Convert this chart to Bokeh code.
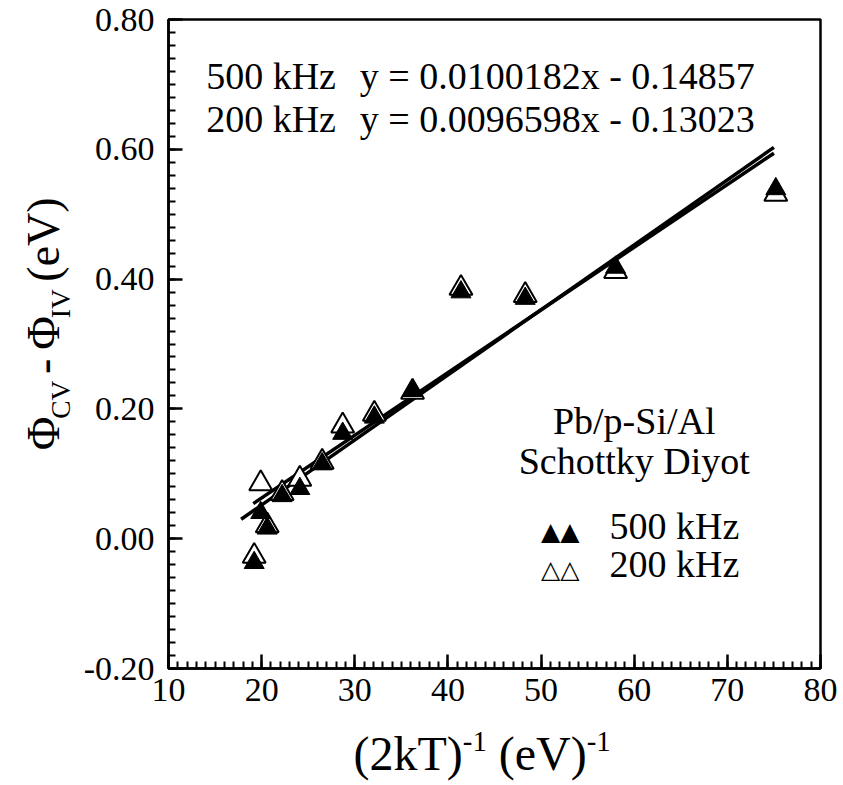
import math
from bokeh.plotting import figure
from bokeh.layouts import row, column
from bokeh.models import Range1d, FixedTicker, PrintfTickFormatter, Label
from bokeh.embed import file_html
from bokeh.resources import INLINE

# ---------------- data ----------------
x_500 = [19.2, 19.9, 20.6, 22.2, 24.1, 26.5, 28.7, 32.1, 36.2, 41.4, 48.3, 58.0, 75.2]
y_500 = [-0.037, 0.040, 0.016, 0.066, 0.077, 0.115, 0.162, 0.187, 0.228, 0.380, 0.370, 0.418, 0.539]

x_200 = [19.2, 19.9, 20.6, 22.2, 24.1, 26.5, 28.7, 32.1, 36.2, 41.4, 48.3, 58.0, 75.2]
y_200 = [-0.027, 0.085, 0.020, 0.070, 0.092, 0.118, 0.174, 0.192, 0.226, 0.386, 0.375, 0.412, 0.531]

fit500_x = [17.8, 75.0]
fit500_y = [0.030, 0.603]
fit200_x = [19.1, 75.0]
fit200_y = [0.054, 0.594]

x_ticks = [10, 20, 30, 40, 50, 60, 70, 80]
y_ticks = [-0.2, 0.0, 0.2, 0.4, 0.6, 0.8]

eq500 = "y = 0.0100182x - 0.14857"
eq200 = "y = 0.0096598x - 0.13023"

# ---------------- layout (page pixels) ----------------
PW, PH = 843, 785
YL_W = 80          # width of the strip holding the y title
XL_H = 65          # height of the strip holding the x title
FL, FR, FT, FB = 162, 820, 19, 668   # frame edges on the page
SERIF = "Liberation Serif"
K_BASE = 0.38      # empirical baseline correction (fraction of font size)

MW, MH = PW - YL_W, PH - XL_H

p = figure(width=MW, height=MH, output_backend="svg", toolbar_location=None,
           x_range=Range1d(10, 80), y_range=Range1d(-0.2, 0.8),
           min_border_left=FL - YL_W, min_border_right=PW - FR,
           min_border_top=FT, min_border_bottom=MH - FB)
p.background_fill_color = "white"
p.border_fill_color = "white"
p.grid.visible = False
p.outline_line_color = "black"
p.outline_line_width = 2.5


def dx(px):
    return 10 + (px - FL) * 70.0 / (FR - FL)


def dy(py):
    return 0.8 - (py - FT) * 1.0 / (FB - FT)


minor_x = list(range(10, 81))
minor_y = [round(-0.2 + 0.02 * i, 2) for i in range(51)]
p.xaxis.ticker = FixedTicker(ticks=x_ticks, minor_ticks=minor_x)
p.yaxis.ticker = FixedTicker(ticks=y_ticks, minor_ticks=minor_y)
p.xaxis.formatter = PrintfTickFormatter(format="%d")
p.yaxis.formatter = PrintfTickFormatter(format="%.2f")

for ax in (p.xaxis, p.yaxis):
    ax.axis_line_width = 2.5
    ax.axis_line_color = "black"
    ax.major_tick_in = 14
    ax.major_tick_out = 0
    ax.minor_tick_in = 7
    ax.minor_tick_out = 0
    ax.major_tick_line_width = 2.5
    ax.minor_tick_line_width = 2
    ax.major_tick_line_color = "black"
    ax.minor_tick_line_color = "black"
    ax.major_label_text_font = SERIF
    ax.major_label_text_font_size = "34px"
    ax.major_label_text_color = "black"
    ax.axis_label = None
p.xaxis.major_label_standoff = 10
p.yaxis.major_label_standoff = 14

# ---------------- fits and points ----------------
p.line(fit500_x, fit500_y, line_color="black", line_width=3.5)
p.line(fit200_x, fit200_y, line_color="black", line_width=3.5)
p.scatter(x_200, y_200, marker="triangle", size=23, fill_color="white",
          line_color="black", line_width=2)
p.scatter(x_500, y_500, marker="triangle", size=20, fill_color="black",
          line_color="black", line_width=1)


# ---------------- strips for the axis titles ----------------
def strip(w, h, x0, y0):
    f = figure(width=w, height=h, output_backend="svg", toolbar_location=None,
               x_range=Range1d(x0, x0 + w), y_range=Range1d(y0 + h, y0),
               x_axis_type=None, y_axis_type=None, min_border=0)
    f.outline_line_color = None
    f.grid.visible = False
    f.background_fill_color = "white"
    f.border_fill_color = "white"
    return f


yfig = strip(YL_W, MH, 0, 0)
xfig = strip(PW, XL_H, 0, MH)

ident = (lambda v: v, lambda v: v)
MAPS = {id(p): (dx, dy), id(yfig): ident, id(xfig): ident}


def lab(fig, text, px, py, size, align="left", font=SERIF, vertical=False):
    """Place text with its baseline at page pixel (px, py)."""
    fx, fy = MAPS[id(fig)]
    if vertical:
        px = px - K_BASE * size
    else:
        py = py - K_BASE * size
    fig.add_layout(Label(x=fx(px), y=fy(py), text=text, text_font=font,
                         text_font_size=f"{size}px", text_align=align,
                         text_baseline="alphabetic", text_color="black",
                         angle=(math.pi / 2 if vertical else 0.0)))


# equations
lab(p, "500 kHz", 200, 90, 38)
lab(p, eq500, 355, 90, 38)
lab(p, "200 kHz", 200, 133, 38)
lab(p, eq200, 355, 133, 38)

# sample description and legend
lab(p, "Pb/p-Si/Al", 632, 435, 38, align="center")
lab(p, "Schottky Diyot", 632, 475, 38, align="center")
lab(p, "▲▲", 538, 540, 25, font="DejaVu Sans")
lab(p, "500 kHz", 607, 540, 38)
lab(p, "△△", 538, 578, 25, font="DejaVu Sans")
lab(p, "200 kHz", 607, 578, 38)

CW = {'(': .333, ')': .333, '2': .5, 'k': .5, 'T': .611, ' ': .25, 'e': .444,
      'V': .722, '-': .333, '1': .5, 'C': .667, 'I': .333, 'Φ': .76}


def twidth(s, size):
    return sum(CW.get(c, .5) for c in s) * size


def rich(fig, pieces, px, py, size, vertical=False):
    small = size * 0.6
    pos = 0.0
    for txt, kind in pieces:
        s = size if kind == "n" else small
        shift = 0.0
        if kind == "sup":
            shift = -0.40 * size
        elif kind == "sub":
            shift = 0.22 * size
        lead = len(txt) - len(txt.lstrip(" "))
        trail = len(txt) - len(txt.rstrip(" "))
        core = txt.strip(" ")
        pos += lead * CW[" "] * s
        if vertical:
            lab(fig, core, px + shift, py - pos, s, vertical=True)
        else:
            lab(fig, core, px + pos, py + shift, s)
        pos += twidth(core, s) + trail * CW[" "] * s


rich(xfig, [("(2kT)", "n"), ("-1", "sup"), (" (eV)", "n"), ("-1", "sup")],
     353, 771, 48)
rich(yfig, [("Φ", "n"), ("CV", "sub"), (" - ", "n"), ("Φ", "n"), ("IV", "sub"),
            (" (eV)", "n")], 60, 478, 46, vertical=True)

layout = column(row(yfig, p, spacing=0), xfig, spacing=0)
open("out.html", "w").write(file_html(layout, INLINE))
